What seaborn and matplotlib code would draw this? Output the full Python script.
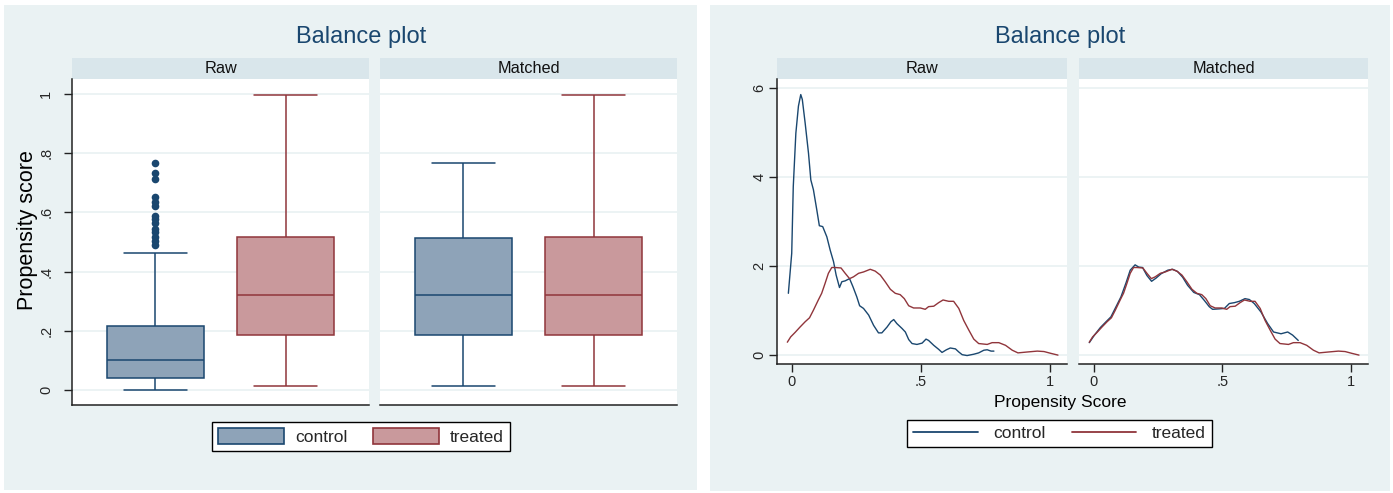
import numpy as np
import pandas as pd
import matplotlib.pyplot as plt
import seaborn as sns
from matplotlib.patches import Rectangle, Patch
from matplotlib.lines import Line2D

groups = ["control", "treated"]
panels = ["Raw", "Matched"]

# five-number summaries: whisker low, Q1, median, Q3, whisker high
raw_control = [0.002, 0.041, 0.102, 0.215, 0.464]
raw_treated = [0.015, 0.186, 0.320, 0.516, 0.995]
matched_control = [0.015, 0.186, 0.320, 0.515, 0.765]
matched_treated = [0.015, 0.186, 0.320, 0.516, 0.995]
raw_control_outliers = [0.490, 0.504, 0.518, 0.535, 0.544, 0.563, 0.578, 0.589,
                        0.622, 0.636, 0.651, 0.712, 0.732, 0.766]

# density curves (propensity score, density)
raw_control_x = [-0.013, 0.000, 0.006, 0.016, 0.026, 0.035, 0.041, 0.052, 0.065, 0.074,
                 0.084, 0.097, 0.107, 0.120, 0.136, 0.149, 0.162, 0.172, 0.179, 0.185,
                 0.194, 0.207, 0.224, 0.237, 0.252, 0.263, 0.278, 0.298, 0.317, 0.336,
                 0.349, 0.369, 0.384, 0.395, 0.407, 0.427, 0.440, 0.453, 0.466, 0.485,
                 0.505, 0.520, 0.530, 0.550, 0.569, 0.582, 0.599, 0.614, 0.634, 0.647,
                 0.660, 0.679, 0.705, 0.724, 0.744, 0.757, 0.772, 0.783]
raw_control_y = [1.38, 2.28, 3.78, 4.98, 5.59, 5.85, 5.74, 5.21, 4.53, 3.93,
                 3.71, 3.26, 2.90, 2.88, 2.65, 2.35, 2.09, 1.79, 1.64, 1.51,
                 1.64, 1.66, 1.71, 1.53, 1.30, 1.10, 1.04, 0.89, 0.66, 0.49,
                 0.49, 0.62, 0.74, 0.79, 0.70, 0.59, 0.51, 0.34, 0.25, 0.23,
                 0.26, 0.35, 0.32, 0.21, 0.12, 0.05, 0.11, 0.15, 0.13, 0.06,
                 0.00, -0.02, 0.01, 0.04, 0.10, 0.11, 0.08, 0.08]
treated_x = [-0.017, -0.004, 0.013, 0.032, 0.052, 0.069, 0.084, 0.103, 0.116, 0.129,
             0.142, 0.155, 0.168, 0.191, 0.207, 0.224, 0.239, 0.259, 0.278, 0.304,
             0.323, 0.343, 0.362, 0.382, 0.401, 0.420, 0.436, 0.453, 0.472, 0.498,
             0.517, 0.530, 0.550, 0.569, 0.586, 0.608, 0.627, 0.647, 0.666, 0.686,
             0.705, 0.724, 0.757, 0.776, 0.802, 0.828, 0.854, 0.876, 0.912, 0.951,
             0.977, 1.003, 1.031]
treated_y = [0.28, 0.40, 0.50, 0.62, 0.74, 0.83, 1.00, 1.23, 1.38, 1.60,
             1.83, 1.96, 1.96, 1.95, 1.83, 1.71, 1.75, 1.83, 1.86, 1.92,
             1.88, 1.79, 1.64, 1.47, 1.38, 1.35, 1.26, 1.10, 1.05, 1.05,
             1.02, 1.08, 1.09, 1.17, 1.23, 1.20, 1.20, 1.04, 0.77, 0.55,
             0.35, 0.25, 0.23, 0.27, 0.27, 0.21, 0.10, 0.04, 0.06, 0.08,
             0.07, 0.03, -0.01]
matched_control_x = [-0.017, 0.003, 0.026, 0.048, 0.067, 0.087, 0.106, 0.126, 0.142, 0.161,
                     0.175, 0.190, 0.207, 0.225, 0.242, 0.262, 0.288, 0.307, 0.326, 0.346,
                     0.365, 0.389, 0.411, 0.430, 0.449, 0.462, 0.488, 0.508, 0.527, 0.547,
                     0.566, 0.588, 0.605, 0.624, 0.650, 0.676, 0.699, 0.728, 0.754, 0.773,
                     0.795]
matched_control_y = [0.27, 0.44, 0.61, 0.74, 0.85, 1.08, 1.30, 1.62, 1.90, 2.02,
                     1.97, 1.96, 1.78, 1.65, 1.72, 1.82, 1.90, 1.92, 1.87, 1.74,
                     1.56, 1.40, 1.35, 1.22, 1.08, 1.02, 1.03, 1.04, 1.15, 1.17,
                     1.20, 1.26, 1.24, 1.15, 0.96, 0.70, 0.51, 0.47, 0.51, 0.44,
                     0.32]

navy = "#1a476f"
maroon = "#90353b"
navy_fill = "#8ea3b8"
maroon_fill = "#c9999c"
bg = "#eaf2f3"
strip_bg = "#d9e6eb"
grid_c = "#eaf2f3"
spine_c = "#222222"

sns.set_style("white")
plt.rcParams["font.family"] = ["Liberation Sans", "DejaVu Sans"]

W, H = 1393, 493
fig = plt.figure(figsize=(W / 100, H / 100), dpi=100)
fig.patch.set_facecolor("white")


def rect(x0, y0, x1, y1):
    return [x0 / W, 1 - y1 / H, (x1 - x0) / W, (y1 - y0) / H]


def fpt(x, y):
    return x / W, 1 - y / H


# stata-like graph regions
for x0, y0, x1, y1 in [(4, 5, 697, 490), (710, 5, 1390, 491)]:
    fig.add_artist(Rectangle(fpt(x0, y1), (x1 - x0) / W, (y1 - y0) / H,
                             transform=fig.transFigure, facecolor=bg,
                             edgecolor="none", zorder=-10))

# facet strips
strips = [(72, 369, "Raw"), (380, 677, "Matched"), (777, 1067, "Raw"), (1079, 1368, "Matched")]
for x0, x1, lab in strips:
    fig.add_artist(Rectangle(fpt(x0, 79), (x1 - x0) / W, 21 / H,
                             transform=fig.transFigure, facecolor=strip_bg,
                             edgecolor="none", zorder=-5))
    fig.text(*fpt((x0 + x1) / 2, 68.5), lab, ha="center", va="center",
             fontsize=11.7, color="#111111")

# box plots
summaries = {("Raw", "control"): raw_control, ("Raw", "treated"): raw_treated,
             ("Matched", "control"): matched_control, ("Matched", "treated"): matched_treated}
box_df = pd.DataFrame([{"panel": p, "group": g, "score": v}
                       for (p, g), vals in summaries.items() for v in vals])

box_axes = [fig.add_axes(rect(72, 79, 369, 405)), fig.add_axes(rect(380, 79, 677, 405))]
fills = [navy_fill, maroon_fill]
edges = [navy, maroon]
for i, (ax, panel) in enumerate(zip(box_axes, panels)):
    ax.set_facecolor("white")
    for g, fc, ec in zip(groups, fills, edges):
        sub = box_df[(box_df["panel"] == panel) & (box_df["group"] == g)]
        sns.boxplot(data=sub, x="group", y="score", order=groups, color=fc,
                    linecolor=ec, linewidth=1.1, width=0.75, whis=(0, 100),
                    saturation=1, showfliers=False, ax=ax)
    # wider caps, like Stata
    for ln in ax.lines:
        xd, yd = np.asarray(ln.get_xdata(), float), np.asarray(ln.get_ydata(), float)
        if len(xd) == 2 and yd[0] == yd[1] and abs(xd[1] - xd[0]) < 0.5:
            c = xd.mean()
            ln.set_xdata([c - 0.245, c + 0.245])
    if panel == "Raw":
        sns.stripplot(x=["control"] * len(raw_control_outliers), y=raw_control_outliers,
                      order=groups, jitter=False, color=navy, size=5.5, linewidth=0, ax=ax)
    ax.set_xlim(-0.642, 1.642)
    ax.set_ylim(-0.05, 1.05)
    ax.set_xticks([])
    ax.set_xlabel("")
    ax.set_ylabel("")
    ax.set_yticks([0, 0.2, 0.4, 0.6, 0.8, 1.0])
    ax.yaxis.grid(True, color=grid_c, lw=1.3)
    ax.set_axisbelow(True)
    for s in ["top", "right"]:
        ax.spines[s].set_visible(False)
    ax.spines["bottom"].set_color(spine_c)
    ax.spines["bottom"].set_linewidth(1.1)
    if i == 0:
        ax.spines["left"].set_color(spine_c)
        ax.spines["left"].set_linewidth(1.1)
        ax.set_yticklabels(["0", ".2", ".4", ".6", ".8", "1"], rotation=90, va="center")
        ax.tick_params(axis="y", left=True, direction="out", length=6, width=1,
                       color=spine_c, pad=7.5, labelsize=10.5)
    else:
        ax.spines["left"].set_visible(False)
        ax.tick_params(axis="y", left=False, labelleft=False)

# density plots
dens_axes = [fig.add_axes(rect(777, 79, 1067, 364)), fig.add_axes(rect(1079, 79, 1368, 364))]
curves = {"Raw": [(raw_control_x, raw_control_y), (treated_x, treated_y)],
          "Matched": [(matched_control_x, matched_control_y), (treated_x, treated_y)]}
for i, (ax, panel) in enumerate(zip(dens_axes, panels)):
    ax.set_facecolor("white")
    for (xs, ys), col in zip(curves[panel], edges):
        sns.lineplot(x=xs, y=ys, color=col, linewidth=1.0, estimator=None,
                     sort=False, ax=ax)
    ax.set_xlim(-0.057, 1.066)
    ax.set_ylim(-0.21, 6.2)
    ax.set_xticks([0, 0.5, 1])
    ax.set_xticklabels(["0", ".5", "1"])
    ax.set_yticks([0, 2, 4, 6])
    ax.yaxis.grid(True, color=grid_c, lw=1.3)
    ax.set_axisbelow(True)
    ax.set_xlabel("")
    ax.set_ylabel("")
    for s in ["top", "right"]:
        ax.spines[s].set_visible(False)
    ax.spines["bottom"].set_color(spine_c)
    ax.spines["bottom"].set_linewidth(1.1)
    ax.tick_params(axis="x", bottom=True, direction="out", length=6, width=1,
                   color=spine_c, pad=2, labelsize=10.5)
    if i == 0:
        ax.spines["left"].set_color(spine_c)
        ax.spines["left"].set_linewidth(1.1)
        ax.set_yticklabels(["0", "2", "4", "6"], rotation=90, va="center")
        ax.tick_params(axis="y", left=True, direction="out", length=6, width=1,
                       color=spine_c, pad=1.5, labelsize=10.5)
    else:
        ax.spines["left"].set_visible(False)
        ax.tick_params(axis="y", left=False, labelleft=False)

# titles and axis labels
fig.text(*fpt(361, 37), "Balance plot", ha="center", va="center", fontsize=17, color=navy)
fig.text(*fpt(1060, 37), "Balance plot", ha="center", va="center", fontsize=17, color=navy)
fig.text(*fpt(28, 230), "Propensity score", ha="center", va="center", rotation=90,
         fontsize=15.5, color="black")
fig.text(*fpt(1060, 403), "Propensity Score", ha="center", va="center",
         fontsize=12.5, color="black")

# legends
box_handles = [Patch(facecolor=f, edgecolor=e, linewidth=1.2) for f, e in zip(fills, edges)]
leg1 = fig.legend(box_handles, groups, loc="center", bbox_to_anchor=fpt(361, 436.5),
                  ncol=2, frameon=True, fancybox=False, edgecolor="black",
                  fontsize=12.5, handlelength=3.8, handleheight=1.0, handletextpad=0.6,
                  columnspacing=1.5, borderpad=0.35, framealpha=1)
leg1.get_frame().set_linewidth(1.0)
line_handles = [Line2D([], [], color=c, linewidth=1.3) for c in edges]
leg2 = fig.legend(line_handles, groups, loc="center", bbox_to_anchor=fpt(1059.5, 433.5),
                  ncol=2, frameon=True, fancybox=False, edgecolor="black",
                  fontsize=12.5, handlelength=3.7, handletextpad=0.9,
                  columnspacing=1.5, borderpad=0.35, framealpha=1)
leg2.get_frame().set_linewidth(1.0)

fig.savefig("out.png", dpi=100, facecolor="white")
